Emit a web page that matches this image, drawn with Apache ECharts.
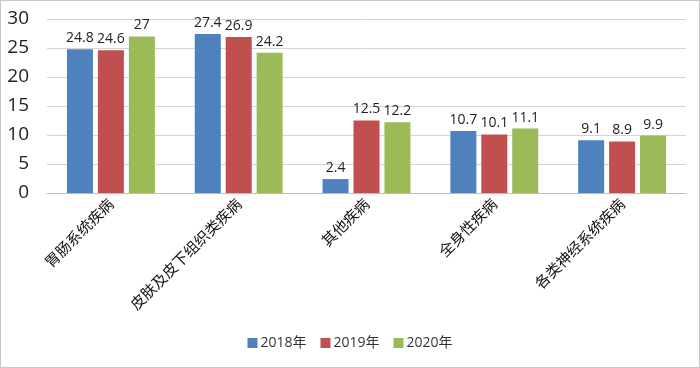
<!DOCTYPE html>
<html><head><meta charset="utf-8">
<script src="https://cdn.jsdelivr.net/npm/echarts@6/dist/echarts.min.js"></script>
<style>html,body{margin:0;padding:0;background:#fff}#c{width:700px;height:368px;box-sizing:border-box;border:1px solid #c8c8c8}</style>
</head><body><div id="c"></div>
<script>
const categories = ['胃肠系统疾病','皮肤及皮下组织类疾病','其他疾病','全身性疾病','各类神经系统疾病'];
const s2018 = [24.8, 27.4, 2.4, 10.7, 9.1];
const s2019 = [24.6, 26.9, 12.5, 10.1, 8.9];
const s2020 = [27, 24.2, 12.2, 11.1, 9.9];
const seriesNames = ['2018年','2019年','2020年'];
const colors = ['#4F81BD','#C0504D','#9BBB59'];
const chart = echarts.init(document.getElementById('c'));
const mk = (name, data, color) => ({
  name, type:'bar', data, barWidth:26, barGap:'19%',
  itemStyle:{color},
  label:{show:true, position:'top', distance:4, color:'#222', fontSize:14, fontFamily:'Open Sans, Liberation Sans, sans-serif'}
});
chart.setOption({
  animation:false,
  grid:{left:46, right:13, top:18, bottom:174},
  legend:{bottom:12, left:'center', itemWidth:10, itemHeight:10, itemGap:14, icon:'rect',
    textStyle:{fontSize:14, color:'#333', padding:[0,0,0,-2], fontFamily:'Open Sans, Noto Sans CJK SC, sans-serif'},
    data:seriesNames},
  xAxis:{type:'category', data:categories,
    axisLine:{lineStyle:{color:'#bdbdbd'}}, axisTick:{show:false},
    axisLabel:{rotate:45, interval:0, margin:8, fontSize:15, color:'#111', fontFamily:'Noto Sans CJK SC, sans-serif'}},
  yAxis:{type:'value', min:0, max:30, interval:5,
    axisLine:{show:false}, axisTick:{show:false},
    splitLine:{lineStyle:{color:'#d4d4d4'}},
    axisLabel:{fontSize:19, color:'#222', margin:18, fontFamily:'Open Sans, Liberation Sans, sans-serif'}},
  series:[mk(seriesNames[0], s2018, colors[0]), mk(seriesNames[1], s2019, colors[1]), mk(seriesNames[2], s2020, colors[2])]
});
</script></body></html>
